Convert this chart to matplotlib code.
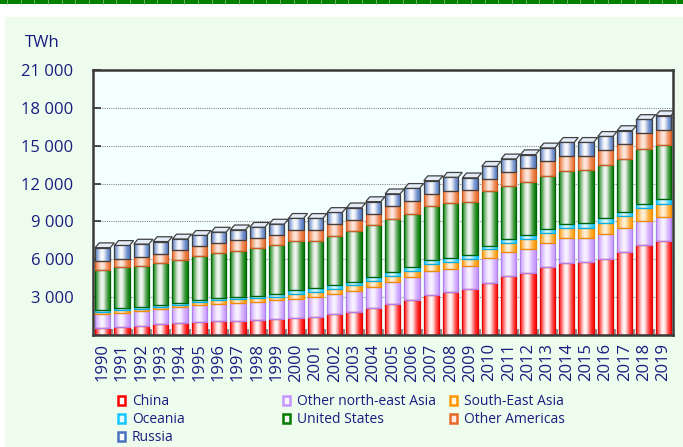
import numpy as np
import matplotlib
matplotlib.use("Agg")
import matplotlib.pyplot as plt
from matplotlib.patches import Rectangle, Polygon, Patch
from matplotlib.colors import to_rgb

plt.rcParams['font.family'] = ['Open Sans', 'DejaVu Sans']

years = list(range(1990, 2020))

# TWh
china = [580, 660, 740, 840, 920, 1025, 1080, 1130, 1210, 1290,
         1320, 1445, 1635, 1840, 2130, 2450, 2790, 3180, 3420, 3630,
         4130, 4660, 4920, 5395, 5710, 5770, 6030, 6560, 7110, 7450]
ne_asia = [1080, 1105, 1160, 1185, 1265, 1315, 1370, 1395, 1420, 1450,
           1550, 1580, 1600, 1660, 1710, 1760, 1815, 1895, 1815, 1830,
           1975, 1920, 1895, 1925, 1950, 1920, 2000, 1950, 1920, 1900]
se_asia = [200, 210, 185, 210, 210, 260, 290, 315, 315, 290,
           395, 395, 420, 425, 475, 505, 475, 530, 585, 555,
           690, 710, 790, 760, 815, 815, 870, 920, 1025, 1055]
oceania = [160, 185, 160, 160, 160, 160, 185, 185, 185, 210,
           270, 270, 270, 260, 260, 285, 315, 315, 315, 315,
           260, 315, 315, 345, 345, 365, 340, 315, 340, 365]
usa = [3160, 3210, 3240, 3340, 3420, 3475, 3580, 3630, 3765, 3895,
       3920, 3760, 3945, 4025, 4105, 4215, 4215, 4265, 4310, 4185,
       4340, 4240, 4240, 4210, 4210, 4210, 4265, 4240, 4370, 4320]
oth_americas = [660, 660, 710, 710, 735, 790, 790, 840, 815, 815,
                900, 900, 915, 870, 945, 970, 985, 995, 1005, 945,
                980, 1050, 1050, 1130, 1160, 1130, 1130, 1160, 1210, 1160]
russia = [1080, 1070, 1010, 960, 900, 870, 860, 840, 830, 840,
          890, 890, 925, 1000, 945, 1005, 1025, 1050, 1050, 995,
          995, 1060, 1080, 1060, 1075, 1055, 1105, 1055, 1105, 1130]

series = [
    ("China", china, "#ff0000", "#ffffff", "#e00000"),
    ("Other north-east Asia", ne_asia, "#c596ff", "#faf5ff", "#b080e8"),
    ("South-East Asia", se_asia, "#ff9600", "#fff3de", "#f08c00"),
    ("Oceania", oceania, "#14c8ff", "#e6faff", "#00b0e8"),
    ("United States", usa, "#007a00", "#f8f8f8", "#006400"),
    ("Other Americas", oth_americas, "#e86a28", "#feeae2", "#d05a20"),
    ("Russia", russia, "#4a72c0", "#ffffff", "#404040"),
]

fig = plt.figure(figsize=(6.83, 4.47), dpi=100)
fig.patch.set_facecolor("white")

# page decoration: green strip on top and pale green panel
fig.add_artist(Rectangle((0, 1 - 4 / 447), 1, 4 / 447, transform=fig.transFigure,
                         facecolor="#008000", edgecolor="none"))
for xs in np.arange(7, 683, 13.65):
    fig.add_artist(plt.Line2D([xs / 683, xs / 683], [1 - 4 / 447, 1],
                              transform=fig.transFigure, color="#7fc07f", lw=0.6))
fig.add_artist(Rectangle((5 / 683, 0), 1, 1 - 17 / 447, transform=fig.transFigure,
                         facecolor="#edfced", edgecolor="none", zorder=-10))

ax = fig.add_axes([93 / 683, (447 - 335) / 447, 580 / 683, 265 / 447])
ax.set_facecolor("#f4ffff")

x = np.arange(len(years))
width = 0.78
t = np.linspace(0, 1, 64)
shade = np.exp(-((t - 0.45) / 0.32) ** 2) * 0.97

bottom = np.zeros(len(years))
for name, vals, base, light, edge in series:
    vals = np.array(vals, dtype=float)
    bars = ax.bar(x, vals, width, bottom=bottom, facecolor="none",
                  edgecolor=edge, linewidth=0.9, zorder=3)
    b = np.array(to_rgb(base))
    l = np.array(to_rgb(light))
    grad = (b[None, :] * (1 - shade[:, None]) + l[None, :] * shade[:, None])[None, :, :]
    for p in bars:
        ax.imshow(grad, extent=[p.get_x(), p.get_x() + p.get_width(),
                                p.get_y(), p.get_y() + p.get_height()],
                  aspect="auto", interpolation="bilinear", zorder=2)
    bottom += vals

# top caps for the 3-D look
dx, dy = 0.21, 380
for xi, top in zip(x, bottom):
    x0, x1 = xi - width / 2, xi + width / 2
    ax.add_patch(Polygon([(x0, top), (x1, top), (x1 + dx, top + dy), (x0 + dx, top + dy)],
                         closed=True, facecolor="#e4ecf8", edgecolor="#404040",
                         linewidth=0.9, zorder=4))

ax.set_xlim(-0.5, len(years) - 0.5)
ax.set_ylim(0, 21000)
ax.set_aspect("auto")

navy = "#1c1c80"
yt = np.arange(3000, 21001, 3000)
ax.set_yticks(yt)
ax.set_yticklabels([f"{v:,}".replace(",", " ") for v in yt])
ax.yaxis.grid(True, linestyle=(0, (1, 1)), color="#8a8a8a", linewidth=0.8, zorder=0)
ax.set_axisbelow(True)
ax.tick_params(axis="y", direction="in", length=6, width=1.2, color="#303030",
               labelsize=12, labelcolor=navy, pad=14)

ax.set_xticks(x)
ax.set_xticklabels([str(y) for y in years], rotation=90)
ax.set_xticks(np.arange(0.5, len(years) - 0.5, 1), minor=True)
ax.tick_params(axis="x", which="major", length=0, labelsize=12, labelcolor=navy, pad=6)
ax.tick_params(axis="x", which="minor", direction="in", length=4, width=1.5, color="#909090")

for s in ax.spines.values():
    s.set_color("#3a3a3a")
    s.set_linewidth(1.8)
    s.set_zorder(6)

fig.text(25 / 683, 1 - 43 / 447, "TWh", fontsize=12, color=navy, va="center", ha="left")

handles = {}
for name, vals, base, light, edge in series:
    handles[name] = Patch(facecolor=light, edgecolor=base, linewidth=1.8)
columns = [(118, ["China", "Oceania", "Russia"]),
           (283, ["Other north-east Asia", "United States"]),
           (450, ["South-East Asia", "Other Americas"])]
for xpos, names in columns:
    fig.legend([handles[n] for n in names], names, ncol=1,
               loc="upper left", bbox_to_anchor=(xpos / 683, 1 - 394 / 447),
               frameon=False, fontsize=10, labelcolor=navy,
               handlelength=0.5, handleheight=0.6, handletextpad=0.5,
               labelspacing=0.22, borderaxespad=0, borderpad=0)

fig.savefig("out.png", dpi=100, facecolor=fig.get_facecolor())
